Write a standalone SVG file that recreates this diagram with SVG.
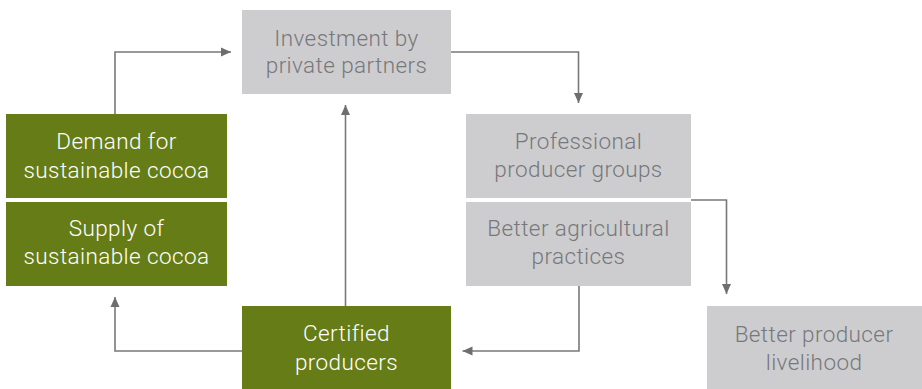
<svg xmlns="http://www.w3.org/2000/svg" width="922" height="389" viewBox="0 0 922 389">
<style>
.g{fill:#667d17}
.s{fill:#cdcdcf}
text{font-family:Roboto,"Liberation Sans",sans-serif;font-weight:300;font-size:22.5px;letter-spacing:0.4px;text-anchor:middle}
.tw{fill:#ffffff}
.tg{fill:#77787b}
.c{fill:none;stroke:#77787b;stroke-width:1.6}
</style>
<defs>
<marker id="ah" viewBox="0 0 10 10" refX="10" refY="5" markerWidth="10" markerHeight="10" markerUnits="userSpaceOnUse" orient="auto">
<path d="M0,0.5 L10,5 L0,9.5 Z" fill="#6d6e71"/>
</marker>
</defs>
<g id="connectors">
<path class="c" d="M115,114 V52 H231" marker-end="url(#ah)"/>
<path class="c" d="M451,52 H578.5 V103" marker-end="url(#ah)"/>
<path class="c" d="M345.5,306 V105" marker-end="url(#ah)"/>
<path class="c" d="M242,351 H115 V297" marker-end="url(#ah)"/>
<path class="c" d="M579,286 V351 H462.5" marker-end="url(#ah)"/>
<path class="c" d="M691,200 H726.5 V294" marker-end="url(#ah)"/>
</g>
<g id="investment">
<rect class="s" x="242" y="10" width="209" height="84"/>
<text class="tg" x="346.5" y="45.5">Investment by</text>
<text class="tg" x="346.5" y="73">private partners</text>
</g>
<g id="demand">
<rect class="g" x="6" y="114" width="221" height="84"/>
<text class="tw" x="116.5" y="149">Demand for</text>
<text class="tw" x="116.5" y="177.5">sustainable cocoa</text>
</g>
<g id="supply">
<rect class="g" x="6" y="202" width="221" height="84"/>
<text class="tw" x="116.5" y="235.5">Supply of</text>
<text class="tw" x="116.5" y="264">sustainable cocoa</text>
</g>
<g id="certified">
<rect class="g" x="242" y="306" width="209" height="83"/>
<text class="tw" x="346.5" y="341">Certified</text>
<text class="tw" x="346.5" y="370">producers</text>
</g>
<g id="professional">
<rect class="s" x="466" y="114" width="225" height="84"/>
<text class="tg" x="578.5" y="148.5">Professional</text>
<text class="tg" x="578.5" y="177">producer groups</text>
</g>
<g id="practices">
<rect class="s" x="466" y="202" width="225" height="84"/>
<text class="tg" x="578.5" y="235.5">Better agricultural</text>
<text class="tg" x="578.5" y="264">practices</text>
</g>
<g id="livelihood">
<rect class="s" x="707" y="306" width="215" height="83"/>
<text class="tg" x="814" y="341.5">Better producer</text>
<text class="tg" x="814" y="370">livelihood</text>
</g>
</svg>
